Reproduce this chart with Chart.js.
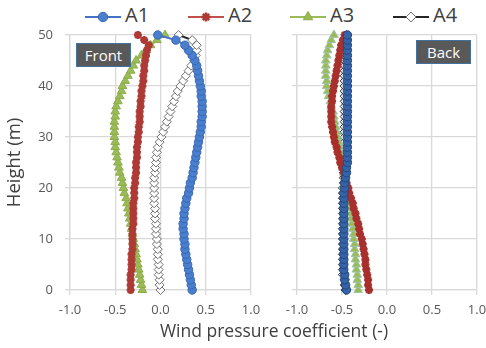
<!DOCTYPE html>
<html lang="en">
<head>
  <meta charset="UTF-8">
  <title>Wind pressure coefficient</title>
  <script src="https://cdn.jsdelivr.net/npm/chart.js"></script>
  <style>
    body { margin: 0; overflow: hidden; background: #fff; font-family: "Open Sans", sans-serif; }
    #wrap { position: relative; width: 486px; height: 348px; overflow: hidden; }
    .panel { position: absolute; top: 0; height: 348px; }
    #legend { position: absolute; top: 0; left: 0; width: 486px; height: 30px; }
    .item { position: absolute; top: 2px; height: 26px; color: #404040; font-size: 20px; line-height: 26px; }
    .item canvas { vertical-align: middle; margin-right: 4px; }
    .tag {
      position: absolute; box-sizing: border-box; height: 24px; width: 55px;
      background: #595959; border: 1px solid #41719C; color: #fff;
      font-size: 15px; line-height: 22px; text-align: center;
    }
    #xtitle { position: absolute; top: 318px; left: 0; width: 548px; text-align: center; color: #404040; font-size: 17.5px; }
  </style>
</head>
<body>
  <div id="wrap">
    <div id="legend"></div>
    <div class="panel" style="left:0;width:270px"><canvas id="front"></canvas></div>
    <div class="panel" style="left:270px;width:230px"><canvas id="back"></canvas></div>
    <div class="tag" style="left:76px;top:43px">Front</div>
    <div class="tag" style="left:416px;top:40px">Back</div>
    <div id="xtitle">Wind pressure coefficient (-)</div>
  </div>

  <script>
    const heights = [0, 1, 2, 3, 4, 5, 6, 7, 8, 9, 10, 11, 12, 13, 14, 15, 16, 17, 18, 19, 20,
      21, 22, 23, 24, 25, 26, 27, 28, 29, 30, 31, 32, 33, 34, 35, 36, 37, 38, 39, 40,
      41, 42, 43, 44, 45, 46, 47, 48, 49, 50];
    const xTicks = [-1.0, -0.5, 0.0, 0.5, 1.0];

    // front face, value per height (0..50 m)
    const frontA1 = [0.35, 0.34, 0.33, 0.32, 0.31, 0.30, 0.29, 0.28, 0.27, 0.27, 0.26, 0.26, 0.25, 0.25, 0.26, 0.26, 0.27,
      0.28, 0.29, 0.31, 0.32, 0.33, 0.35, 0.36, 0.37, 0.38, 0.39, 0.40, 0.41, 0.42, 0.43, 0.44, 0.45, 0.45, 0.46,
      0.46, 0.46, 0.46, 0.45, 0.45, 0.44, 0.43, 0.42, 0.41, 0.40, 0.38, 0.35, 0.31, 0.27, 0.17, -0.03];
    const frontA2 = [-0.33, -0.33, -0.33, -0.33, -0.32, -0.32, -0.32, -0.32, -0.31, -0.31, -0.31, -0.31, -0.31, -0.30,
      -0.30, -0.30, -0.30, -0.30, -0.29, -0.29, -0.29, -0.28, -0.28, -0.27, -0.27, -0.27, -0.26, -0.26, -0.26, -0.25,
      -0.25, -0.24, -0.24, -0.23, -0.23, -0.23, -0.22, -0.22, -0.21, -0.21, -0.20, -0.19, -0.19, -0.18, -0.18, -0.17,
      -0.16, -0.15, -0.13, -0.18, -0.25];
    const frontA3 = [-0.20, -0.21, -0.22, -0.23, -0.24, -0.25, -0.26, -0.27, -0.28, -0.29, -0.30, -0.31, -0.32, -0.33,
      -0.34, -0.35, -0.36, -0.37, -0.38, -0.40, -0.41, -0.42, -0.43, -0.45, -0.46, -0.47, -0.48, -0.49, -0.50, -0.50,
      -0.51, -0.51, -0.51, -0.51, -0.50, -0.50, -0.49, -0.47, -0.45, -0.43, -0.42, -0.39, -0.36, -0.33, -0.30, -0.27,
      -0.21, -0.16, -0.11, -0.04, 0.05];
    const frontA4 = [0.00, -0.01, -0.01, -0.02, -0.02, -0.02, -0.03, -0.03, -0.03, -0.04, -0.04, -0.05, -0.05, -0.05,
      -0.06, -0.06, -0.06, -0.07, -0.07, -0.07, -0.07, -0.07, -0.07, -0.06, -0.06, -0.05, -0.05, -0.04, -0.03, -0.01,
      0.01, 0.03, 0.05, 0.07, 0.09, 0.11, 0.13, 0.15, 0.17, 0.19, 0.22, 0.25, 0.28, 0.31, 0.34, 0.37, 0.39, 0.40,
      0.40, 0.35, 0.20];

    // back face
    const backA1 = [-0.45, -0.46, -0.47, -0.47, -0.48, -0.48, -0.48, -0.48, -0.48, -0.48, -0.48, -0.48, -0.48, -0.48,
      -0.48, -0.48, -0.48, -0.48, -0.48, -0.48, -0.47, -0.47, -0.46, -0.45, -0.45, -0.44, -0.44, -0.44, -0.44, -0.44,
      -0.44, -0.44, -0.44, -0.44, -0.44, -0.44, -0.44, -0.44, -0.44, -0.44, -0.44, -0.44, -0.44, -0.44, -0.44, -0.44,
      -0.44, -0.44, -0.44, -0.44, -0.44];
    const backA2 = [-0.20, -0.21, -0.21, -0.22, -0.23, -0.24, -0.24, -0.25, -0.26, -0.27, -0.28, -0.30, -0.31, -0.32,
      -0.34, -0.35, -0.37, -0.38, -0.40, -0.42, -0.43, -0.45, -0.47, -0.48, -0.50, -0.52, -0.53, -0.55, -0.56, -0.58,
      -0.59, -0.60, -0.61, -0.62, -0.62, -0.62, -0.62, -0.61, -0.61, -0.60, -0.59, -0.58, -0.57, -0.56, -0.55, -0.54,
      -0.53, -0.52, -0.51, -0.49, -0.47];
    const backA3 = [-0.32, -0.32, -0.33, -0.33, -0.34, -0.34, -0.35, -0.35, -0.36, -0.36, -0.37, -0.37, -0.38, -0.39,
      -0.40, -0.40, -0.41, -0.42, -0.43, -0.44, -0.45, -0.46, -0.47, -0.48, -0.49, -0.50, -0.51, -0.52, -0.53, -0.54,
      -0.55, -0.56, -0.57, -0.58, -0.59, -0.60, -0.62, -0.63, -0.65, -0.66, -0.67, -0.67, -0.68, -0.68, -0.68, -0.68,
      -0.67, -0.66, -0.64, -0.62, -0.59];
    const backA4 = [-0.46, -0.47, -0.47, -0.49, -0.49, -0.49, -0.49, -0.49, -0.49, -0.49, -0.49, -0.49, -0.49, -0.49,
      -0.49, -0.49, -0.49, -0.49, -0.49, -0.49, -0.49, -0.48, -0.48, -0.48, -0.48, -0.47, -0.47, -0.47, -0.47, -0.47,
      -0.47, -0.47, -0.47, -0.47, -0.47, -0.47, -0.47, -0.47, -0.47, -0.47, -0.47, -0.47, -0.47, -0.47, -0.47, -0.47,
      -0.47, -0.47, -0.47, -0.46, -0.45];

    const FONT = '"Open Sans", sans-serif';
    const GRID = '#D9D9D9';

    const styleA1 = { borderColor: '#4472C4', pointStyle: 'circle', pointRadius: 4.2, pointBackgroundColor: '#4A7FD0', pointBorderColor: '#3A67B0', pointBorderWidth: 1 };
    const styleA2 = { borderColor: '#C0504D', pointStyle: 'star', pointRadius: 4, pointBackgroundColor: '#AE3A36', pointBorderColor: '#AE3A36', pointBorderWidth: 2.5 };
    const styleA3 = { borderColor: '#9BBB59', pointStyle: 'triangle', pointRadius: 5, pointBackgroundColor: '#9BBB59', pointBorderColor: '#8CAD4A', pointBorderWidth: 1 };
    const styleA4 = { borderColor: '#262626', pointStyle: 'rectRot', pointRadius: 4.5, pointBackgroundColor: '#ffffff', pointBorderColor: '#707070', pointBorderWidth: 1 };

    function series(label, values, style, extra) {
      return Object.assign({
        label: label,
        data: values.map((v, i) => ({ x: v, y: heights[i] })),
        showLine: true,
        borderWidth: 2,
        clip: false
      }, style, extra || {});
    }

    function panel(id, datasets, leftWidth, padRight, showY) {
      return new Chart(document.getElementById(id), {
        type: 'scatter',
        data: { datasets: datasets },
        options: {
          responsive: true,
          maintainAspectRatio: false,
          animation: false,
          layout: { padding: { top: 35, right: padRight, left: 0, bottom: 0 } },
          plugins: { legend: { display: false }, tooltip: { enabled: false } },
          scales: {
            x: {
              type: 'linear', min: -1, max: 1,
              afterBuildTicks: s => { s.ticks = xTicks.map(v => ({ value: v })); },
              afterFit: s => { s.height = 58; },
              grid: { color: GRID, tickLength: 5, lineWidth: 1.3 },
              border: { color: GRID, width: 1.3 },
              ticks: { color: '#595959', padding: 7, font: { family: FONT, size: 13 }, callback: v => v.toFixed(1) }
            },
            y: {
              min: 0, max: 50,
              ticks: { display: showY, stepSize: 10, color: '#595959', padding: 12, font: { family: FONT, size: 13 } },
              afterFit: s => { s.width = leftWidth; },
              grid: { color: GRID, tickLength: 5, lineWidth: 1.3 },
              border: { color: GRID, width: 1.3 },
              title: { display: showY, text: 'Height (m)', color: '#404040', padding: { top: 4 }, font: { family: FONT, size: 18.5 } }
            }
          }
        }
      });
    }

    panel('front', [
      series('A1', frontA1, styleA1),
      series('A2', frontA2, styleA2),
      series('A3', frontA3, styleA3),
      series('A4', frontA4, styleA4)
    ], 70, 19, true);

    panel('back', [
      series('A1', backA1, styleA1, { pointBackgroundColor: '#3563A8', pointBorderColor: '#22477F' }),
      series('A2', backA2, styleA2, { pointBackgroundColor: '#A8302C', pointBorderColor: '#A8302C' }),
      series('A3', backA3, styleA3, { pointBorderColor: '#9CC4A8' }),
      series('A4', backA4, styleA4, { pointBorderColor: '#262626' })
    ], 27, 23, false);

    // legend: line sample with marker, then the name
    const legendItems = [
      { name: 'A1', left: 85, s: styleA1 },
      { name: 'A2', left: 188, s: styleA2 },
      { name: 'A3', left: 290, s: styleA3 },
      { name: 'A4', left: 393, s: styleA4 }
    ];
    const legend = document.getElementById('legend');
    legendItems.forEach(it => {
      const div = document.createElement('div');
      div.className = 'item';
      div.style.left = it.left + 'px';
      const c = document.createElement('canvas');
      c.width = 36; c.height = 20;
      const g = c.getContext('2d');
      g.strokeStyle = it.s.borderColor;
      g.lineWidth = 2;
      g.beginPath(); g.moveTo(0, 10); g.lineTo(36, 10); g.stroke();
      g.fillStyle = it.s.pointBackgroundColor;
      g.strokeStyle = it.s.pointBorderColor;
      g.lineWidth = it.s.pointBorderWidth;
      Chart.helpers.drawPoint(g, { pointStyle: it.s.pointStyle, radius: it.s.pointRadius + 0.5, borderWidth: it.s.pointBorderWidth, rotation: 0 }, 18, 10);
      div.appendChild(c);
      div.appendChild(document.createTextNode(it.name));
      legend.appendChild(div);
    });
  </script>
</body>
</html>
